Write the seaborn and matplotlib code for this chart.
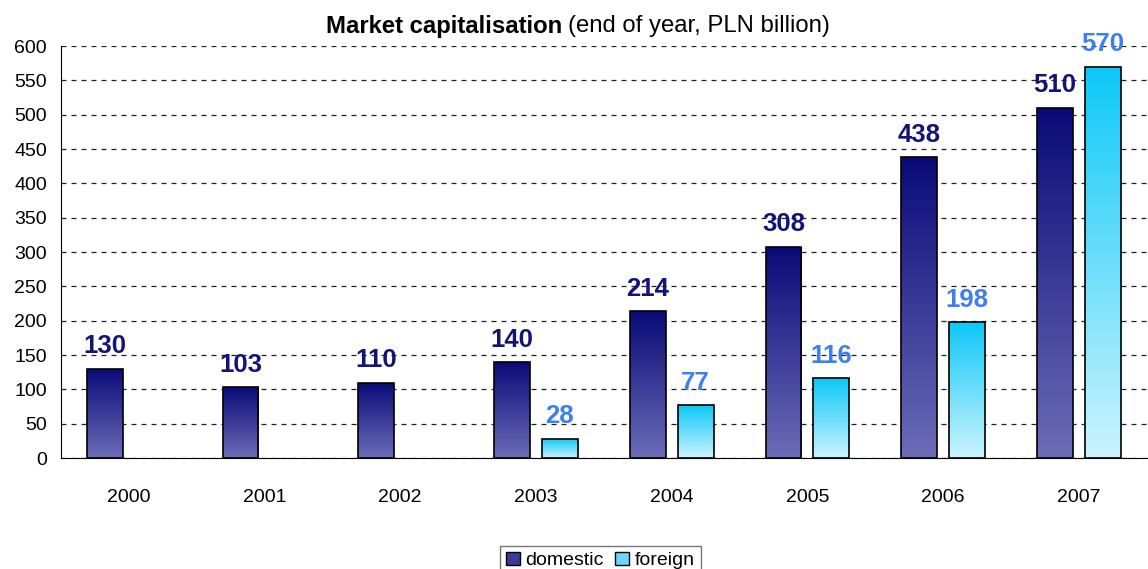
import numpy as np
import pandas as pd
import matplotlib
matplotlib.use("Agg")
import matplotlib.pyplot as plt
import matplotlib.patches as mpatches
from matplotlib.colors import LinearSegmentedColormap
import seaborn as sns

years = ["2000", "2001", "2002", "2003", "2004", "2005", "2006", "2007"]
domestic = [130, 103, 110, 140, 214, 308, 438, 510]
foreign = [np.nan, np.nan, np.nan, 28, 77, 116, 198, 570]
series = ["domestic", "foreign"]

df = pd.DataFrame({
    "year": years * 2,
    "value": domestic + foreign,
    "type": ["domestic"] * len(years) + ["foreign"] * len(years),
})

sns.set_style("white")
plt.rcParams["font.family"] = ["Liberation Sans", "DejaVu Sans"]
plt.rcParams["text.color"] = "black"
plt.rcParams["xtick.color"] = "black"
plt.rcParams["ytick.color"] = "black"

# gradient colours (bottom -> top)
grad = {
    "domestic": LinearSegmentedColormap.from_list("dom", ["#6c6cb8", "#0a0a78"]),
    "foreign": LinearSegmentedColormap.from_list("for", ["#ccf4ff", "#0cc8f8"]),
}
label_col = {"domestic": "#141478", "foreign": "#3d7ef0"}
solid = {"domestic": "#3a3a98", "foreign": "#6ad8fb"}

fig = plt.figure(figsize=(11.48, 5.69), dpi=100)
ax = fig.add_axes([0.053, 0.195, 0.946, 0.724])

sns.barplot(data=df, x="year", y="value", hue="type", hue_order=series,
            palette=solid, width=0.706, gap=0.25, dodge=True,
            edgecolor="black", linewidth=1.2, legend=False, ax=ax, zorder=3)

ax.set_yticks(range(0, 601, 50))
ax.yaxis.grid(True, linestyle=(0, (4, 4)), color="#222222", linewidth=0.9, zorder=0)
ax.set_axisbelow(True)

# gradient fill clipped to each bar
grad_img = np.linspace(0, 1, 256).reshape(-1, 1)
for cont, name in zip(ax.containers, series):
    for bar in cont:
        h = bar.get_height()
        if not np.isfinite(h) or h <= 0:
            continue
        x0, w = bar.get_x(), bar.get_width()
        im = ax.imshow(grad_img, cmap=grad[name], aspect="auto", origin="lower",
                       extent=[x0, x0 + w, 0, h], zorder=2.5)
        im.set_clip_path(bar)
        bar.set_facecolor("none")
        ax.annotate(f"{int(h)}", (x0 + w / 2, h), xytext=(0, 7.5),
                    textcoords="offset points", ha="center", va="bottom",
                    fontsize=18.5, fontweight="bold", color=label_col[name], zorder=5)
ax.set_xlim(-0.5, len(years) - 0.5)
ax.set_ylim(0, 600)

for s in ["top", "right"]:
    ax.spines[s].set_visible(False)
ax.spines["left"].set_color("black")
ax.spines["bottom"].set_color("black")

ax.set_xticks(range(len(years)))
ax.set_xticklabels(years)
ax.set_xticks(np.arange(-0.5, len(years), 1), minor=True)
ax.tick_params(axis="x", which="major", length=0, pad=22, labelsize=14)
ax.tick_params(axis="x", which="minor", length=6, width=1, direction="out", color="black")
ax.tick_params(axis="y", length=8, width=1, direction="inout", color="black",
               labelsize=14, pad=6)
ax.set_xlabel("")
ax.set_ylabel("")

# title: bold part + normal part, centred together
t1 = fig.text(0, 0.954, "Market capitalisation", ha="left", va="center",
              fontsize=17.2, fontweight="bold")
t2 = fig.text(0, 0.954, "(end of year, PLN billion)", ha="left", va="center",
              fontsize=17.2)
fig.canvas.draw()
w1 = t1.get_window_extent().width
w2 = t2.get_window_extent().width
gap = 6
x_start = 578 - (w1 + gap + w2) / 2
t1.set_x(x_start / fig.bbox.width)
t2.set_x((x_start + w1 + gap) / fig.bbox.width)

handles = [mpatches.Patch(facecolor=solid[n], edgecolor="black", linewidth=1, label=n)
           for n in series]
leg = fig.legend(handles=handles, loc="upper center", bbox_to_anchor=(0.523, 0.058),
                 ncol=2, frameon=True, fancybox=False, edgecolor="#555555",
                 fontsize=14, handlelength=0.7, handleheight=0.7,
                 handletextpad=0.3, columnspacing=0.6, borderpad=0.3)
leg.get_frame().set_linewidth(1)

fig.savefig("out.png", dpi=100)
